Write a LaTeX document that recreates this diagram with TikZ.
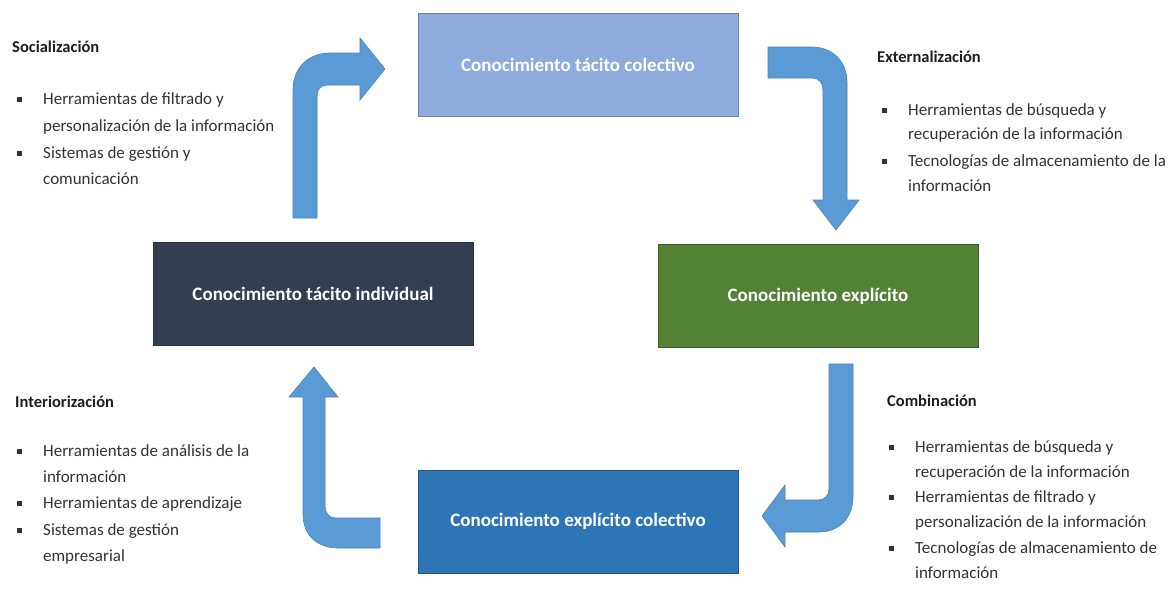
\documentclass[tikz,border=0pt]{standalone}
\usepackage{fontspec}
\setmainfont{Carlito}
\definecolor{topc}{HTML}{8FAADC}
\definecolor{leftc}{HTML}{333F50}
\definecolor{rightc}{HTML}{548235}
\definecolor{botc}{HTML}{2E75B6}
\definecolor{arrowc}{HTML}{5B9BD5}
\definecolor{arrowd}{HTML}{4A84BC}
\definecolor{titlec}{HTML}{1E1E1E}
\definecolor{bodyc}{HTML}{333333}
\newcommand{\bulsq}{\makebox[26pt][l]{\rule[2pt]{5pt}{5pt}}}
\begin{document}
\begin{tikzpicture}[x=1pt,y=-1pt,
  kbox/.style={draw=#1!75!black, line width=0.8pt, fill=#1, minimum width=320pt, minimum height=103pt,
    inner sep=0pt, text=white, font=\bfseries\fontsize{19}{22}\selectfont},
  bentarrow/.style={fill=arrowc, draw=arrowd, line width=0.6pt, line join=miter},
  ttl/.style={anchor=west, inner sep=0pt, text height=12pt, text depth=4pt, text=titlec,
    font=\bfseries\fontsize{16.5}{20}\selectfont},
  itm/.style={anchor=west, inner sep=0pt, text height=12pt, text depth=4pt, text=bodyc,
    font=\fontsize{17}{20}\selectfont}]
\useasboundingbox (0,0) rectangle (1176,589);
\fill[white] (0,0) rectangle (1176,589);

% boxes
\node[kbox=topc]   (tc) at (578,65)    {Conocimiento tácito colectivo};
\node[kbox=leftc]  (ti) at (313,293.5) {Conocimiento tácito individual};
\node[kbox=rightc] (ex) at (818,296)   {Conocimiento explícito};
\node[kbox=botc]   (ec) at (578,521.5) {Conocimiento explícito colectivo};

% bent arrows
\draw[bentarrow] (293,218) -- (293,90) .. controls (293,68) and (308,53) .. (330,53)
  -- (360,53) -- (360,38) -- (385,69) -- (360,100) -- (360,85) -- (328,85)
  .. controls (321,85) and (317,89) .. (317,96) -- (317,218) -- cycle;
\draw[bentarrow] (768,47) -- (812,47) .. controls (832,47) and (847,61) .. (847,82)
  -- (847,200) -- (859,200) -- (836,230) -- (813,200) -- (823,200) -- (823,90)
  .. controls (823,83) and (819,78) .. (812,78) -- (768,78) -- cycle;
\draw[bentarrow] (829,364) -- (853,364) -- (853,497) .. controls (853,517) and (840,532) .. (819,532)
  -- (785,532) -- (785,547) -- (762,516) -- (785,485) -- (785,500) -- (818,500)
  .. controls (824,500) and (829,496) .. (829,489) -- cycle;
\draw[bentarrow] (380,548) -- (338,548) .. controls (317,548) and (303,535) .. (303,514)
  -- (303,397) -- (289,397) -- (314,367) -- (338,397) -- (325,397) -- (325,506)
  .. controls (325,513) and (329,518) .. (336,518) -- (380,518) -- cycle;

% Socializacion
\node[ttl] (s0) at (12,48) {Socialización};
\node[itm] (s1) at (17,100) {\bulsq Herramientas de filtrado y};
\node[itm] (s2) at (43,127) {personalización de la información};
\node[itm] (s3) at (17,154) {\bulsq Sistemas de gestión y};
\node[itm] (s4) at (43,180) {comunicación};

% Externalizacion
\node[ttl] (e0) at (877,58) {Externalización};
\node[itm] (e1) at (882,111) {\bulsq Herramientas de búsqueda y};
\node[itm] (e2) at (908,135) {recuperación de la información};
\node[itm] (e3) at (882,162) {\bulsq Tecnologías de almacenamiento de la};
\node[itm] (e4) at (908,187) {información};

% Interiorizacion
\node[ttl] (i0) at (15,403) {Interiorización};
\node[itm] (i1) at (17,452) {\bulsq Herramientas de análisis de la};
\node[itm] (i2) at (43,478) {información};
\node[itm] (i3) at (17,504) {\bulsq Herramientas de aprendizaje};
\node[itm] (i4) at (17,531) {\bulsq Sistemas de gestión};
\node[itm] (i5) at (43,557) {empresarial};

% Combinacion
\node[ttl] (c0) at (887,402) {Combinación};
\node[itm] (c1) at (889,448) {\bulsq Herramientas de búsqueda y};
\node[itm] (c2) at (915,473) {recuperación de la información};
\node[itm] (c3) at (889,498) {\bulsq Herramientas de filtrado y};
\node[itm] (c4) at (915,523) {personalización de la información};
\node[itm] (c5) at (889,549) {\bulsq Tecnologías de almacenamiento de};
\node[itm] (c6) at (915,574) {información};
\end{tikzpicture}
\end{document}
